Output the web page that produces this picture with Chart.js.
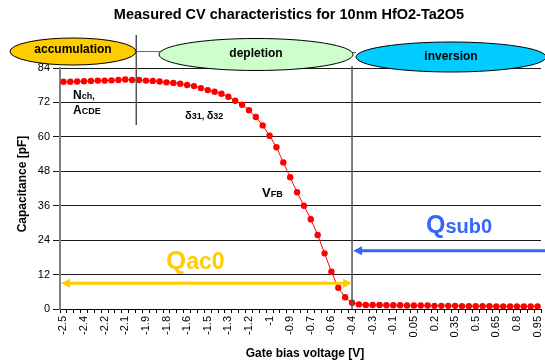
<!DOCTYPE html>
<html>
<head>
<meta charset="utf-8">
<script src="https://cdn.jsdelivr.net/npm/chart.js@4"></script>
<style>
  html, body { margin: 0; padding: 0; background: #fff; }
  #wrap { width: 545px; height: 362px; position: relative; }
</style>
</head>
<body>
<div id="wrap"><canvas id="cv" width="545" height="362"></canvas></div>
<script>
// Gate bias sweep [V], one point per 0.05 V step
const voltages = [
  -2.5, -2.45, -2.4, -2.35, -2.3, -2.25, -2.2, -2.15, -2.1, -2.05,
  -2.0, -1.95, -1.9, -1.85, -1.8, -1.75, -1.7, -1.65, -1.6, -1.55,
  -1.5, -1.45, -1.4, -1.35, -1.3, -1.25, -1.2, -1.15, -1.1, -1.05,
  -1.0, -0.95, -0.9, -0.85, -0.8, -0.75, -0.7, -0.65, -0.6, -0.55,
  -0.5, -0.45, -0.4, -0.35, -0.3, -0.25, -0.2, -0.15, -0.1, -0.05,
  0.0, 0.05, 0.1, 0.15, 0.2, 0.25, 0.3, 0.35, 0.4, 0.45,
  0.5, 0.55, 0.6, 0.65, 0.7, 0.75, 0.8, 0.85, 0.9, 0.95
];

// Measured capacitance [pF]
const capacitance = [
  79.2, 79.2, 79.3, 79.4, 79.5, 79.6, 79.6, 79.7, 79.8, 80.0,
  79.8, 79.8, 79.6, 79.5, 79.3, 79.0, 78.8, 78.5, 78.1, 77.7,
  77.0, 76.3, 75.7, 75.0, 74.0, 72.6, 71.2, 69.3, 66.9, 64.0,
  60.4, 56.4, 51.1, 45.9, 40.7, 36.0, 31.3, 25.8, 19.4, 13.0,
  7.4, 4.1, 2.2, 1.6, 1.4, 1.4, 1.4, 1.3, 1.3, 1.3,
  1.2, 1.2, 1.2, 1.2, 1.1, 1.1, 1.1, 1.1, 1.0, 1.0,
  1.0, 1.0, 1.0, 0.9, 0.9, 0.9, 0.9, 0.9, 0.9, 0.9
];

// Labels printed under every third sweep point
const tickLabels = [
  "-2.5", "-2.4", "-2.2", "-2.1", "-1.9", "-1.8", "-1.6", "-1.5",
  "-1.3", "-1.2", "-1", "-0.9", "-0.7", "-0.6", "-0.4", "-0.3",
  "-0.1", "0.05", "0.2", "0.35", "0.5", "0.65", "0.8", "0.95"
];
const labelStep = 3;

// Operating regions along the top
const regions = ["accumulation", "depletion", "inversion"];

// Region boundary voltages and charge-arrow levels
const boundaryAccDep = -1.97;
const boundaryDepInv = -0.4;
const qac0Level = 9;
const qsub0Level = 20.3;

const FONT = "'Liberation Sans', Arial, sans-serif";

function idx(v) {
  // fractional category index for a voltage
  return (v - voltages[0]) / (voltages[1] - voltages[0]);
}

function rich(ctx, parts, x, y) {
  let cx = x;
  for (const p of parts) {
    ctx.font = "bold " + p.size + "px " + FONT;
    ctx.fillStyle = p.color || "#000";
    ctx.fillText(p.t, cx, y + (p.dy || 0));
    cx += ctx.measureText(p.t).width;
  }
}

function ellipse(ctx, cx, cy, rx, ry, fill, text, ty) {
  ctx.beginPath();
  ctx.ellipse(cx, cy, rx, ry, 0, 0, Math.PI * 2);
  ctx.fillStyle = fill;
  ctx.fill();
  ctx.lineWidth = 1;
  ctx.strokeStyle = "#000";
  ctx.stroke();
  ctx.fillStyle = "#000";
  ctx.font = "bold 12px " + FONT;
  ctx.textAlign = "center";
  ctx.textBaseline = "middle";
  ctx.fillText(text, cx, ty);
}

function arrowHead(ctx, x, y, dir, color) {
  ctx.beginPath();
  ctx.moveTo(x, y);
  ctx.lineTo(x - dir * 9, y - 4.5);
  ctx.lineTo(x - dir * 9, y + 4.5);
  ctx.closePath();
  ctx.fillStyle = color;
  ctx.fill();
}

const decorations = {
  id: "decorations",
  afterDraw(chart) {
    const ctx = chart.ctx;
    const xs = chart.scales.x, ys = chart.scales.y;
    const area = chart.chartArea;
    ctx.save();

    // title
    ctx.fillStyle = "#000";
    ctx.font = "bold 14.5px " + FONT;
    ctx.textAlign = "center";
    ctx.textBaseline = "middle";
    ctx.fillText("Measured CV characteristics for 10nm HfO2-Ta2O5", 289, 15);

    // axis titles
    ctx.font = "bold 12px " + FONT;
    ctx.fillText("Gate bias voltage [V]", 305, 354);
    ctx.save();
    ctx.translate(23, 184);
    ctx.rotate(-Math.PI / 2);
    ctx.fillText("Capacitance [pF]", 0, 0);
    ctx.restore();

    // region boundaries
    const xb1 = xs.getPixelForValue(idx(boundaryAccDep));
    const xb2 = xs.getPixelForValue(idx(boundaryDepInv));
    ctx.strokeStyle = "#555";
    ctx.lineWidth = 1.5;
    ctx.beginPath();
    ctx.moveTo(xb1, 35); ctx.lineTo(xb1, 125);
    ctx.moveTo(xb2, 66); ctx.lineTo(xb2, area.bottom);
    ctx.stroke();

    // connector between region ellipses
    ctx.strokeStyle = "#666";
    ctx.lineWidth = 1;
    ctx.beginPath();
    ctx.moveTo(xb1, 51.5); ctx.lineTo(xb2 + 4, 52.5);
    ctx.stroke();

    ellipse(ctx, 73, 51.5, 63, 13.5, "#FFCC00", regions[0], 50);
    ellipse(ctx, 256, 54.5, 97, 16, "#CCFFCC", regions[1], 54);
    ellipse(ctx, 451, 57, 95, 15, "#00CCFF", regions[2], 57);

    // parameter annotations
    ctx.textAlign = "left";
    ctx.textBaseline = "alphabetic";
    rich(ctx, [{t: "N", size: 12}, {t: "ch,", size: 9}], 73, 99);
    rich(ctx, [{t: "A", size: 12}, {t: "CDE", size: 9}], 73, 114);
    rich(ctx, [{t: "\u03B4", size: 11}, {t: "31, ", size: 9}, {t: "\u03B4", size: 11}, {t: "32", size: 9}], 185, 118.5);
    rich(ctx, [{t: "V", size: 13}, {t: "FB", size: 9}], 262, 196.5);

    // Qac0 double arrow
    const yq = ys.getPixelForValue(qac0Level);
    const yellow = "#FFCC00";
    ctx.strokeStyle = yellow;
    ctx.lineWidth = 3;
    ctx.beginPath();
    ctx.moveTo(area.left + 6, yq); ctx.lineTo(xb2 - 6, yq);
    ctx.stroke();
    arrowHead(ctx, area.left + 1, yq, -1, yellow);
    arrowHead(ctx, xb2, yq, 1, yellow);
    rich(ctx, [{t: "Q", size: 26, color: yellow}, {t: "ac0", size: 23, color: yellow}], 166, 269);

    // Qsub0 arrow
    const yb = ys.getPixelForValue(qsub0Level);
    const blue = "#3366FF";
    ctx.strokeStyle = blue;
    ctx.lineWidth = 3;
    ctx.beginPath();
    ctx.moveTo(chart.width, yb); ctx.lineTo(xb2 + 6, yb);
    ctx.stroke();
    arrowHead(ctx, xb2 + 1, yb, -1, blue);
    rich(ctx, [{t: "Q", size: 25, color: blue}, {t: "sub0", size: 20, color: blue}], 426, 233);

    ctx.restore();
  }
};

new Chart(document.getElementById("cv"), {
  type: "line",
  data: {
    labels: voltages,
    datasets: [{
      data: capacitance,
      borderColor: "#FF0000",
      backgroundColor: "#FF0000",
      borderWidth: 1,
      pointRadius: 3.2,
      pointBorderWidth: 0,
      pointBackgroundColor: "#FF0000",
      tension: 0
    }]
  },
  options: {
    responsive: false,
    animation: false,
    devicePixelRatio: 1,
    layout: { padding: { top: 68, right: 1.5, left: 0, bottom: 0 } },
    plugins: { legend: { display: false }, tooltip: { enabled: false } },
    scales: {
      x: {
        type: "category",
        offset: true,
        grid: {
          offset: true,
          drawOnChartArea: false,
          drawTicks: true,
          tickLength: 4,
          color: "#000"
        },
        border: { color: "#000", width: 1 },
        ticks: {
          autoSkip: false,
          minRotation: 90,
          maxRotation: 90,
          padding: 3,
          color: "#000",
          font: { family: FONT, size: 11 },
          callback: (v, i) => (i % labelStep === 0 ? tickLabels[i / labelStep] : "")
        },
        afterFit: (s) => { s.height = 53; s.paddingLeft = 0; s.paddingRight = 0; }
      },
      y: {
        min: 0,
        max: 84,
        ticks: {
          stepSize: 12,
          padding: 3,
          color: "#000",
          font: { family: FONT, size: 11 }
        },
        grid: { color: "#1a1a1a", lineWidth: 1, tickLength: 7 },
        border: { color: "#808080", width: 2 },
        afterFit: (s) => { s.width = 60; s.paddingTop = 0; s.paddingBottom = 0; }
      }
    }
  },
  plugins: [decorations]
});
</script>
</body>
</html>
